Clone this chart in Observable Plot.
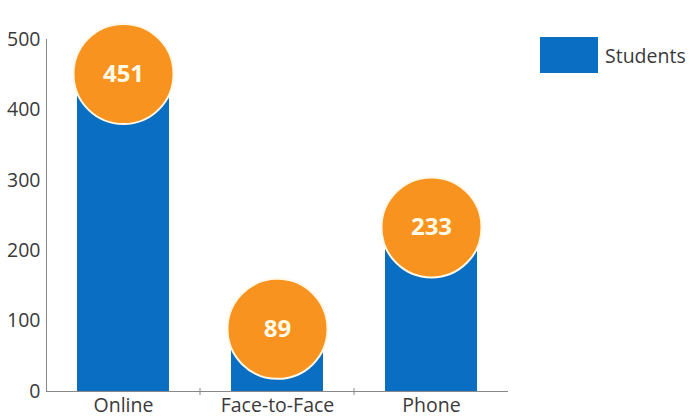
<!DOCTYPE html>
<html>
<head>
<meta charset="utf-8">
<script src="https://cdn.jsdelivr.net/npm/d3@7"></script>
<script src="https://cdn.jsdelivr.net/npm/@observablehq/plot@0.6"></script>
<style>
  body { margin: 0; background: #fff; font-family: "Open Sans", sans-serif; }
  #wrap { position: relative; width: 691px; height: 418px; }
  #legend { position: absolute; left: 540px; top: 37px; display: flex; align-items: center; font: 19.5px "Open Sans", sans-serif; color: #3a3a3a; }
  #legend .sw { width: 58px; height: 36px; background: #0a6fc2; margin-right: 7px; }
</style>
</head>
<body>
<div id="wrap">
  <div id="chart"></div>
  <div id="legend"><div class="sw"></div><span>Students</span></div>
</div>
<script>
const categories = ["Online", "Face-to-Face", "Phone"];
const students = [451, 89, 233];
const yTicks = [0, 100, 200, 300, 400, 500];

const data = categories.map((c, i) => ({category: c, value: students[i]}));

const plot = Plot.plot({
  width: 691,
  height: 418,
  marginLeft: 46,
  marginRight: 183,
  marginTop: 39,
  marginBottom: 27,
  style: {fontFamily: "Open Sans, sans-serif", fontSize: "19.5px", color: "#3a3a3a", background: "transparent", overflow: "visible"},
  x: {domain: categories, paddingInner: 0.4, paddingOuter: 0.2, label: null, tickSize: 0, tickPadding: 7},
  y: {domain: [0, 500], ticks: yTicks, label: null, tickSize: 0, tickPadding: 6},
  marks: [
    Plot.barY(data, {x: "category", y: "value", fill: "#0a6fc2"}),
    Plot.frame({anchor: "left", stroke: "#888"}),
    Plot.ruleY([0], {stroke: "#888"}),
    Plot.dot(data, {x: "category", y: "value", r: 50, fill: "#f7931e", stroke: "#fff8e8", strokeWidth: 2}),
    Plot.text(data, {x: "category", y: "value", text: d => String(d.value), fill: "#fffbe8", fontSize: 24, fontWeight: "bold"})
  ]
});
document.getElementById("chart").appendChild(plot);

// boundary tick marks on the x axis, from the library's own x scale descriptor
const sx = plot.scale("x");
const sy = plot.scale("y");
const band = d3.scaleBand().domain(sx.domain).range(sx.range)
  .paddingInner(sx.paddingInner).paddingOuter(sx.paddingOuter).align(sx.align ?? 0.5);
const y0 = sy.range[0];
const svg = d3.select(plot);
categories.slice(1).forEach(c => {
  const xb = band(c) - band.step() * band.paddingInner() / 2;
  svg.append("line").attr("x1", xb).attr("x2", xb).attr("y1", y0 - 3).attr("y2", y0 + 4)
    .attr("stroke", "#888").attr("stroke-width", 1);
});
</script>
</body>
</html>
